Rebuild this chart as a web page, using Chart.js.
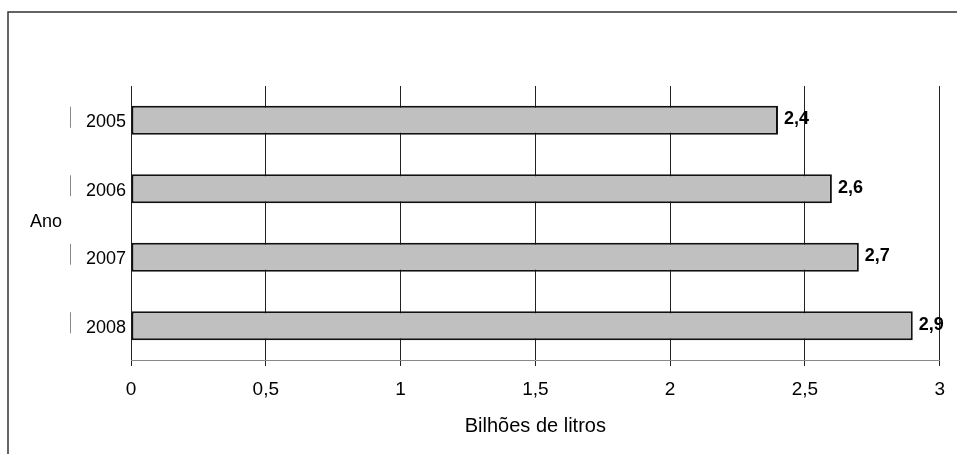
<!DOCTYPE html>
<html>
<head>
<meta charset="utf-8">
<script src="https://cdn.jsdelivr.net/npm/chart.js@4/dist/chart.umd.min.js"></script>
<style>
html,body{margin:0;padding:0;background:#fff;}
#wrap{width:957px;height:454px;position:relative;}
</style>
</head>
<body>
<div id="wrap"><canvas id="c" width="957" height="454"></canvas></div>
<script>
const years = ['2005', '2006', '2007', '2008'];
const values = [2.4, 2.6, 2.7, 2.9];
const xTicks = [0, 0.5, 1, 1.5, 2, 2.5, 3];
const xTitle = 'Bilhões de litros';
const yTitle = 'Ano';

const FONT = "'Liberation Sans', Arial, sans-serif";
const fmt = v => String(v).replace('.', ',');

const decor = {
  id: 'decor',
  beforeDraw(chart) {
    const ctx = chart.ctx;
    ctx.save();
    ctx.fillStyle = '#fff';
    ctx.fillRect(0, 0, chart.width, chart.height);
    ctx.strokeStyle = '#333';
    ctx.lineWidth = 1.5;
    ctx.beginPath();
    ctx.moveTo(8, chart.height);
    ctx.lineTo(8, 12);
    ctx.lineTo(chart.width, 12);
    ctx.stroke();
    ctx.restore();
  },
  afterDraw(chart) {
    const ctx = chart.ctx;
    const ys = chart.scales.y;
    const area = chart.chartArea;
    ctx.save();
    ctx.strokeStyle = '#888';
    ctx.lineWidth = 1;
    years.forEach((y, i) => {
      const py = ys.getPixelForValue(i);
      ctx.beginPath();
      ctx.moveTo(70.5, py - 13.5);
      ctx.lineTo(70.5, py + 7.5);
      ctx.stroke();
    });
    ctx.fillStyle = '#000';
    ctx.font = '18px ' + FONT;
    ctx.textAlign = 'left';
    ctx.textBaseline = 'middle';
    ctx.fillText(yTitle, 30, (area.top + area.bottom) / 2 - 1);
    ctx.font = 'bold 18px ' + FONT;
    const meta = chart.getDatasetMeta(0);
    meta.data.forEach((bar, i) => {
      ctx.fillText(fmt(values[i]), bar.x + 6, bar.y - 1);
    });
    ctx.restore();
  }
};

new Chart(document.getElementById('c'), {
  type: 'bar',
  data: {
    labels: years,
    datasets: [{
      data: values,
      backgroundColor: '#c0c0c0',
      borderColor: '#111',
      borderWidth: 2,
      borderSkipped: false,
      barPercentage: 0.42,
      categoryPercentage: 1.0
    }]
  },
  options: {
    indexAxis: 'y',
    responsive: false,
    animation: false,
    devicePixelRatio: 1,
    layout: { padding: { top: 86, right: 16, left: 0, bottom: 0 } },
    plugins: { legend: { display: false }, tooltip: { enabled: false } },
    scales: {
      x: {
        type: 'linear',
        min: 0, max: 3,
        afterBuildTicks(scale) { scale.ticks = xTicks.map(v => ({ value: v })); },
        afterFit(scale) { scale.height = 94; },
        grid: { color: '#222', lineWidth: 1, tickLength: 6, drawTicks: true, tickColor: '#222' },
        border: { display: true, color: '#888', width: 1 },
        ticks: {
          color: '#000',
          font: { family: FONT, size: 19 },
          padding: 12,
          callback: v => fmt(v)
        },
        title: {
          display: true,
          text: xTitle,
          color: '#000',
          font: { family: FONT, size: 20 },
          padding: { top: 4, bottom: 16 }
        }
      },
      y: {
        type: 'category',
        afterFit(scale) { scale.width = 131; },
        grid: { display: false, drawTicks: false },
        border: { display: false },
        ticks: {
          color: '#000',
          font: { family: FONT, size: 18 },
          padding: 5,
          labelOffset: 2
        }
      }
    }
  },
  plugins: [decor]
});
</script>
</body>
</html>
